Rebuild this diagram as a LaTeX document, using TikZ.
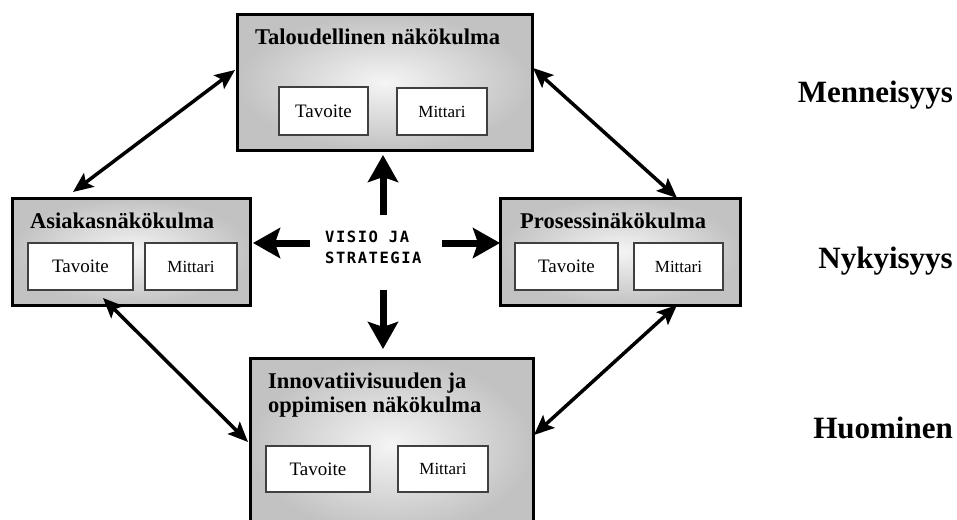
\documentclass[tikz,border=0pt]{standalone}
\usepackage{fontspec}
\setmainfont{Liberation Serif}
\newfontfamily\visfont[LetterSpace=10]{DejaVu Sans Mono}
\usetikzlibrary{arrows.meta,calc}

\tikzset{
  panel/.style={draw=black, line width=3pt, inner color=gray!8, outer color=gray!48,
    rectangle, inner sep=0pt, outer sep=0pt},
  cell/.style={draw=black!75, line width=1.6pt, fill=white, rectangle, inner sep=0pt,
    outer sep=0pt},
  head/.style={font=\fontsize{22.5}{23}\selectfont\bfseries, inner sep=0pt, anchor=base west},
  goal/.style={font=\fontsize{19}{20}\selectfont},
  meter/.style={font=\fontsize{17}{18}\selectfont},
  era/.style={font=\fontsize{31}{32}\selectfont\bfseries, inner sep=0pt, anchor=base east},
  linkarrow/.style={line width=3.5pt, {Stealth[length=20pt,width=17pt,inset=4pt]}-{Stealth[length=20pt,width=17pt,inset=4pt]}},
  hubarrow/.style={line width=7pt, -{Stealth[length=27pt,width=30pt,inset=5pt]}}
}

\begin{document}
\begin{tikzpicture}[x=1pt,y=-1pt]
\useasboundingbox (0,0) rectangle (957,519);
\clip (0,0) rectangle (957,519);
\fill[white] (0,0) rectangle (957,519);

% four perspective panels
\node[panel, minimum width=295pt, minimum height=135pt] (tal) at (384.5,82.5) {};
\node[panel, minimum width=238pt, minimum height=107pt] (asia) at (131,251.5) {};
\node[panel, minimum width=240pt, minimum height=107pt] (pros) at (620,251.5) {};
\node[panel, minimum width=283pt, minimum height=175pt] (inno) at (391.5,445.5) {};

% panel titles
\node[head] (talh) at (255,45) {Taloudellinen näkökulma};
\node[head] (asiah) at (30,228) {Asiakasnäkökulma};
\node[head] (prosh) at (520,228) {Prosessinäkökulma};
\node[head] (innoh1) at (268,388) {Innovatiivisuuden ja};
\node[head] (innoh2) at (268,412) {oppimisen näkökulma};

% goal / measure cells
\node[cell, goal, minimum width=89pt, minimum height=48pt] (talg) at (323.5,111) {Tavoite};
\node[cell, meter, minimum width=90pt, minimum height=47pt] (talm) at (442,111.5) {Mittari};
\node[cell, goal, minimum width=105pt, minimum height=47pt] (asiag) at (80.5,266.5) {Tavoite};
\node[cell, meter, minimum width=92pt, minimum height=47pt] (asiam) at (191,266.5) {Mittari};
\node[cell, goal, minimum width=103pt, minimum height=47pt] (prosg) at (566.5,266.5) {Tavoite};
\node[cell, meter, minimum width=89pt, minimum height=47pt] (prosm) at (678.5,266.5) {Mittari};
\node[cell, goal, minimum width=104pt, minimum height=46pt] (innog) at (318,469) {Tavoite};
\node[cell, meter, minimum width=90pt, minimum height=46pt] (innom) at (443,469) {Mittari};

% time labels
\node[era] (past) at (953,102) {Menneisyys};
\node[era] (now) at (953,268) {Nykyisyys};
\node[era] (future) at (953,438) {Huominen};

% vision in the middle
\coordinate (hub) at (383,243);
\node[font=\visfont\fontsize{15.5}{21}\selectfont\bfseries, align=left, inner sep=0pt,
  anchor=base west] (vis) at (325,263) {VISIO JA\\STRATEGIA};

\draw[hubarrow] ([yshift=28pt]hub) -- ([yshift=-5pt]hub |- tal.south);
\draw[hubarrow] ([xshift=-73pt]hub) -- ([xshift=3pt]asia.east |- hub);
\draw[hubarrow] ([xshift=59pt]hub) -- ([xshift=0pt]pros.west |- hub);
\draw[hubarrow] ([yshift=-47pt]hub) -- ([yshift=9pt]hub |- inno.north);

% links between neighbouring perspectives
\draw[linkarrow] ([xshift=61pt,yshift=6pt]asia.north west) -- ([xshift=-2pt,yshift=-55pt]tal.north west);
\draw[linkarrow] ([xshift=1pt,yshift=-53pt]tal.north east) -- ([xshift=177pt]pros.north west);
\draw[linkarrow] ([xshift=91pt,yshift=7pt]asia.south west) -- ([xshift=-2pt,yshift=-84pt]inno.north west);
\draw[linkarrow] ([xshift=177pt]pros.south west) -- ([xshift=1pt,yshift=-77pt]inno.north east);
\end{tikzpicture}
\end{document}
